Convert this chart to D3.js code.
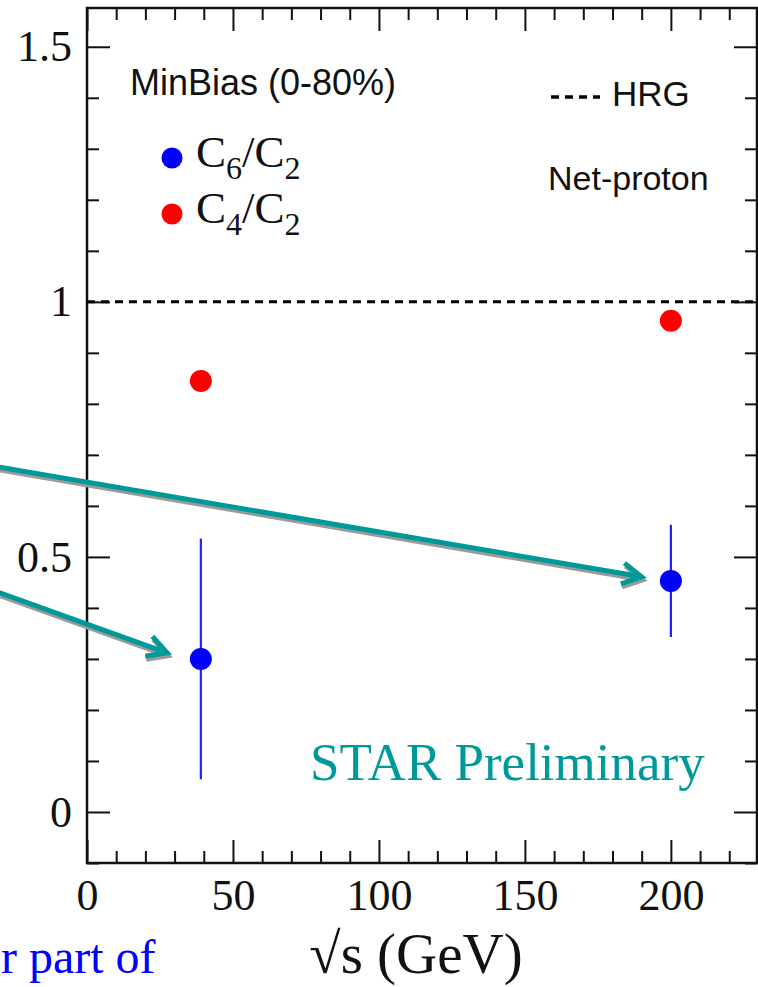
<!DOCTYPE html>
<html>
<head>
<meta charset="utf-8">
<script src="https://cdn.jsdelivr.net/npm/d3@7"></script>
<style>
    body { margin: 0; background: #fff; }
    #chart { width: 758px; height: 987px; }
</style>
</head>
<body>
<div id="chart"></div>
<script>
const energies = [39, 200];
const c4c2 = [0.845, 0.963];
const c6c2 = [0.300, 0.453];
const c6c2_err = [0.236, 0.110];
const hrg_value = 1;
const x_major = [0, 50, 100, 150, 200];
const y_major = [0, 0.5, 1, 1.5];
const y_labels = ["0", "0.5", "1", "1.5"];
// arrows pointing at the C6/C2 points, in data units
const arrow_from = [[-32, 0.678], [-32, 0.434]];
const arrow_to = [[190, 0.461], [27.4, 0.312]];

const serif = "'Liberation Serif', 'Times New Roman', serif";
const sans = "'Liberation Sans', Arial, sans-serif";
const teal = "#009999";

class CumulantChart {
    constructor(id) {
        this.div = id;
    }

    add_svg() {
        const div = d3.select(`#${this.div}`);
        div.selectAll("*").remove();
        this.width = 758;
        this.height = 987;
        this.margin = { left: 87, right: 1, top: 8, bottom: 124 };
        this.innerW = this.width - this.margin.left - this.margin.right;
        this.innerH = this.height - this.margin.top - this.margin.bottom;
        this.svg = div.append("svg")
            .attr("width", this.width)
            .attr("height", this.height);
        this.svg.append("rect").attr("width", this.width).attr("height", this.height).attr("fill", "#fff");
        this.ChartArea = this.svg.append("g")
            .attr("transform", `translate(${this.margin.left},${this.margin.top})`);
    }

    add_scale() {
        this.x = d3.scaleLinear().domain([0, 229.5]).range([0, this.innerW]);
        this.y = d3.scaleLinear().domain([-0.1, 1.576]).range([this.innerH, 0]);
    }

    add_axis() {
        const big = 23, small = 12;
        const x_minor = d3.range(0, 230, 10).filter(d => d % 50 !== 0);
        const y_minor = d3.range(-1, 16).map(d => d / 10).filter(d => Math.round(d * 10) % 5 !== 0);

        const g = this.ChartArea;
        const bottom = g.append("g").attr("transform", `translate(0,${this.innerH})`);
        bottom.append("g").call(d3.axisBottom(this.x).tickValues(x_major).tickSize(-big).tickPadding(16).tickFormat(d3.format("d")));
        bottom.append("g").call(d3.axisBottom(this.x).tickValues(x_minor).tickSize(-small).tickFormat(""));
        const top = g.append("g");
        top.append("g").call(d3.axisTop(this.x).tickValues(x_major).tickSize(-big).tickFormat(""));
        top.append("g").call(d3.axisTop(this.x).tickValues(x_minor).tickSize(-small).tickFormat(""));
        const left = g.append("g");
        left.append("g").call(d3.axisLeft(this.y).tickValues(y_major).tickSize(-big).tickPadding(15)
            .tickFormat((d, i) => y_labels[i]));
        left.append("g").call(d3.axisLeft(this.y).tickValues(y_minor).tickSize(-small).tickFormat(""));
        const right = g.append("g").attr("transform", `translate(${this.innerW},0)`);
        right.append("g").call(d3.axisRight(this.y).tickValues(y_major).tickSize(-big).tickFormat(""));
        right.append("g").call(d3.axisRight(this.y).tickValues(y_minor).tickSize(-small).tickFormat(""));

        g.selectAll(".domain").remove();
        g.selectAll(".tick line").attr("stroke", "#111").attr("stroke-width", 2);
        g.selectAll(".tick text").attr("font-family", serif).attr("font-size", 44).attr("fill", "#111");

        g.append("rect")
            .attr("width", this.innerW).attr("height", this.innerH)
            .attr("fill", "none").attr("stroke", "#111").attr("stroke-width", 2.5);

        this.svg.append("text")
            .attr("x", 416).attr("y", 973)
            .attr("text-anchor", "middle")
            .attr("font-family", serif).attr("font-size", 57).attr("fill", "#111")
            .text("\u221As (GeV)");
    }

    draw_chart() {
        const g = this.ChartArea;
        g.append("line")
            .attr("x1", 0).attr("x2", this.innerW)
            .attr("y1", this.y(hrg_value)).attr("y2", this.y(hrg_value))
            .attr("stroke", "#000").attr("stroke-width", 3).attr("stroke-dasharray", "8,6");

        const pts = energies.map((e, i) => ({ e, c4: c4c2[i], c6: c6c2[i], err: c6c2_err[i] }));
        g.selectAll(".err").data(pts).join("line").attr("class", "err")
            .attr("x1", d => this.x(d.e)).attr("x2", d => this.x(d.e))
            .attr("y1", d => this.y(d.c6 - d.err)).attr("y2", d => this.y(d.c6 + d.err))
            .attr("stroke", "#2222ff").attr("stroke-width", 2.2);
        g.selectAll(".c6").data(pts).join("circle").attr("class", "c6")
            .attr("cx", d => this.x(d.e)).attr("cy", d => this.y(d.c6))
            .attr("r", 11).attr("fill", "#0000ff");
        g.selectAll(".c4").data(pts).join("circle").attr("class", "c4")
            .attr("cx", d => this.x(d.e)).attr("cy", d => this.y(d.c4))
            .attr("r", 11).attr("fill", "#ff0000");
    }

    add_legend() {
        const s = this.svg;
        s.append("text").attr("x", 130).attr("y", 95)
            .attr("font-family", sans).attr("font-size", 36).attr("fill", "#111")
            .text("MinBias (0-80%)");
        s.append("line").attr("x1", 551).attr("x2", 600).attr("y1", 97).attr("y2", 97)
            .attr("stroke", "#000").attr("stroke-width", 3.5).attr("stroke-dasharray", "8,6");
        s.append("text").attr("x", 612).attr("y", 106)
            .attr("font-family", sans).attr("font-size", 35).attr("fill", "#111")
            .text("HRG");
        s.append("text").attr("x", 548).attr("y", 190)
            .attr("font-family", sans).attr("font-size", 34).attr("fill", "#111")
            .text("Net-proton");

        const entries = [
            { color: "#0000ff", sub: "6", y: 167 },
            { color: "#ff0000", sub: "4", y: 223 }
        ];
        entries.forEach(d => {
            s.append("circle").attr("cx", 172).attr("cy", d.y - 9).attr("r", 10.5).attr("fill", d.color);
            const t = s.append("text").attr("x", 196).attr("y", d.y)
                .attr("font-family", serif).attr("font-size", 45).attr("fill", "#111");
            t.append("tspan").text("C");
            t.append("tspan").attr("font-size", 32).attr("dy", 12).text(d.sub);
            t.append("tspan").attr("dy", -12).text("/C");
            t.append("tspan").attr("font-size", 32).attr("dy", 12).text("2");
        });
    }

    add_annotations() {
        const g = this.ChartArea;
        const head = 22, ang = 0.5;
        arrow_from.forEach((f, i) => {
            const x0 = this.x(f[0]), y0 = this.y(f[1]);
            const x1 = this.x(arrow_to[i][0]), y1 = this.y(arrow_to[i][1]);
            const a = Math.atan2(y1 - y0, x1 - x0);
            const p = d3.path();
            p.moveTo(x0, y0); p.lineTo(x1, y1);
            p.moveTo(x1 - head * Math.cos(a - ang), y1 - head * Math.sin(a - ang));
            p.lineTo(x1, y1);
            p.lineTo(x1 - head * Math.cos(a + ang), y1 - head * Math.sin(a + ang));
            const d = p.toString();
            g.append("path").attr("d", d).attr("transform", "translate(1,3)")
                .attr("fill", "none").attr("stroke", "#9a9a9a").attr("stroke-width", 5);
            g.append("path").attr("d", d)
                .attr("fill", "none").attr("stroke", teal).attr("stroke-width", 5)
                .attr("stroke-linejoin", "miter");
        });

        this.svg.append("text").attr("x", 310).attr("y", 780)
            .attr("font-family", serif).attr("font-size", 53).attr("fill", teal)
            .text("STAR Preliminary");
        this.svg.append("text").attr("x", 1).attr("y", 973)
            .attr("font-family", serif).attr("font-size", 48).attr("fill", "#0000ff")
            .text("r part of");
    }

    update_chart() {
        this.add_svg();
        this.add_scale();
        this.add_axis();
        this.draw_chart();
        this.add_legend();
        this.add_annotations();
    }
}

new CumulantChart("chart").update_chart();
</script>
</body>
</html>
